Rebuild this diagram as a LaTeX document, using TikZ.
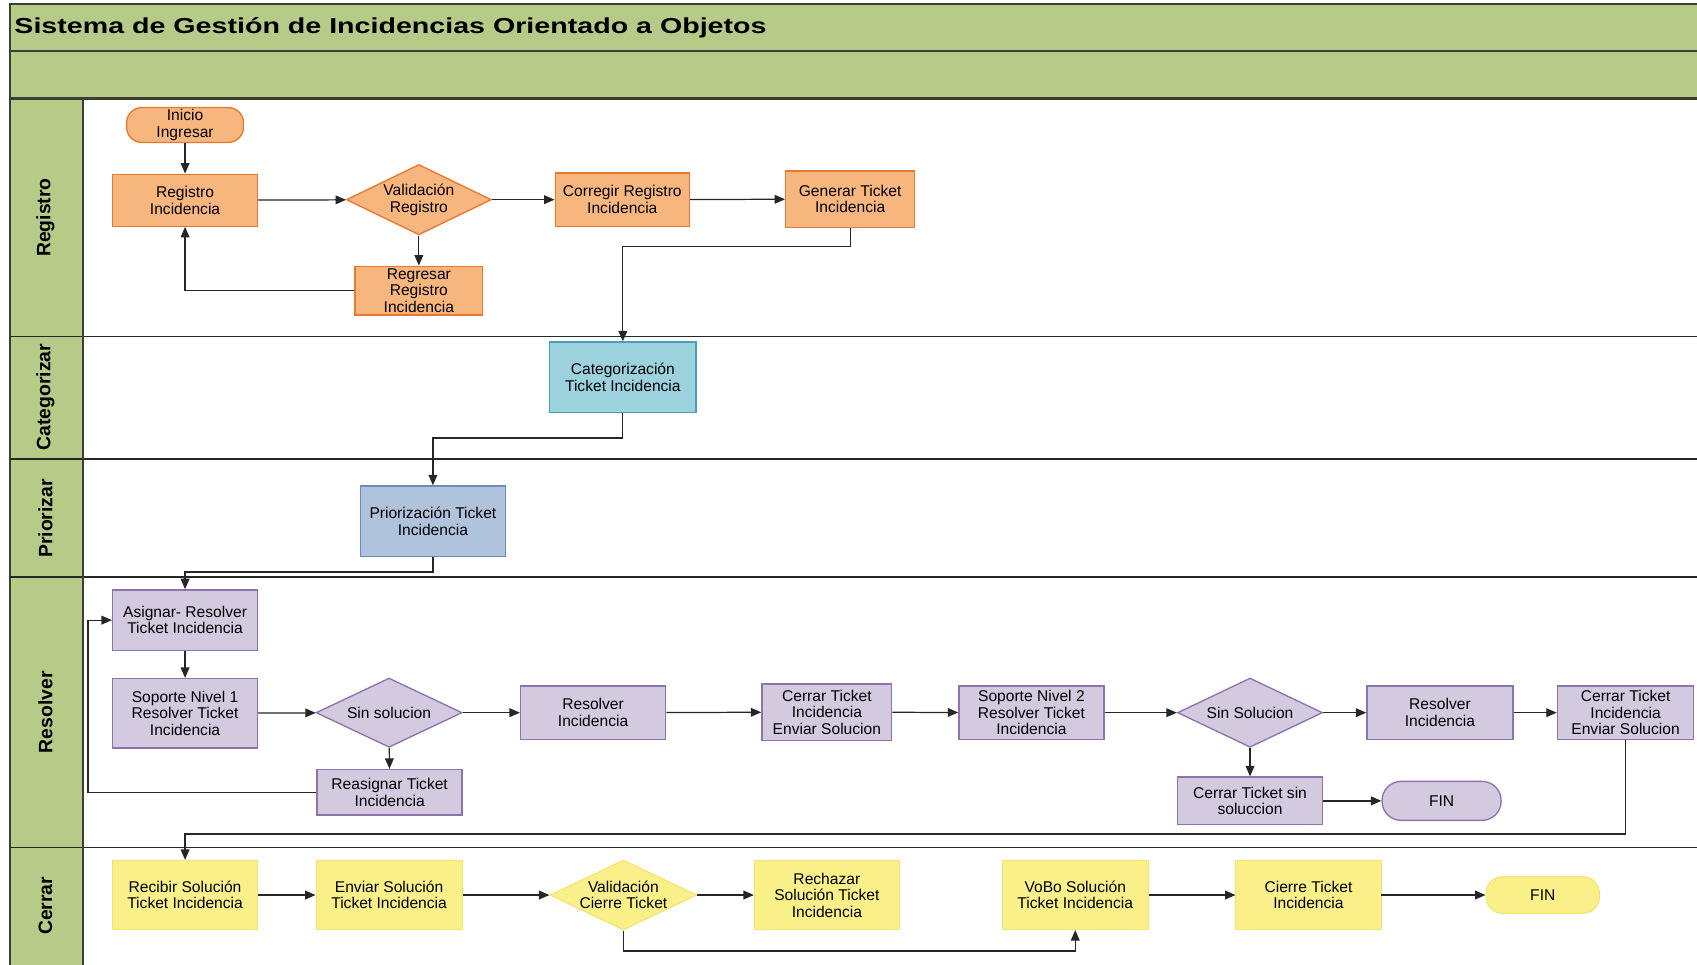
\documentclass[tikz,border=0pt]{standalone}
\usepackage{fontspec}
\setmainfont{Liberation Sans}
\newfontfamily\titlefont[FakeStretch=1.32]{Liberation Sans}
\usetikzlibrary{shapes.geometric,arrows.meta}

\definecolor{lanegreen}{HTML}{B7CB88}
\definecolor{framegray}{HTML}{3A3F36}
\definecolor{orfill}{HTML}{F8B67F}
\definecolor{ordraw}{HTML}{E8782D}
\definecolor{pufill}{HTML}{D3CAE0}
\definecolor{pudraw}{HTML}{8C74AC}
\definecolor{yefill}{HTML}{FAF08A}
\definecolor{yedraw}{HTML}{F2E36A}
\definecolor{cyfill}{HTML}{9BD2DE}
\definecolor{cydraw}{HTML}{4A9FB3}
\definecolor{blfill}{HTML}{B0C3DD}
\definecolor{bldraw}{HTML}{6A8BBE}

\tikzset{
  wh/.style 2 args={minimum width=#1*0.02cm, minimum height=#2*0.02cm},
  nodetext/.style={font=\fontsize{8.2}{8.7}\selectfont, align=center, text=black, inner sep=1pt},
  obox/.style={nodetext, rectangle, fill=orfill, draw=ordraw, line width=0.7pt},
  pbox/.style={nodetext, rectangle, fill=pufill, draw=pudraw, line width=0.7pt},
  ybox/.style={nodetext, rectangle, fill=yefill, draw=yedraw, line width=0.5pt},
  cbox/.style={nodetext, rectangle, fill=cyfill, draw=cydraw, line width=0.7pt},
  bbox/.style={nodetext, rectangle, fill=blfill, draw=bldraw, line width=0.7pt},
  dia/.style={diamond, aspect=2.1, inner sep=0pt},
  stadium/.style={rounded corners=8pt},
  conn/.style={draw=black!85, line width=0.65pt, -{Triangle[length=5.5pt,width=4.6pt]}},
  frame/.style={draw=framegray, line width=1.1pt},
  laneline/.style={draw=black!85, line width=0.8pt},
  lanelabel/.style={font=\bfseries\fontsize{10.2}{12}\selectfont, rotate=90}
}

\begin{document}
\begin{tikzpicture}[x=0.02cm,y=-0.02cm]
\clip (0,0) rectangle (1568,891);
\fill[white] (0,0) rectangle (1568,891);

% pool header and lane column
\draw[frame, fill=lanegreen] (9,4) rectangle (1600,91);
\draw[frame] (9,47) -- (1600,47);
\draw[frame, fill=lanegreen] (9,91) rectangle (77,910);
\draw[frame] (9,91) -- (1600,91);
\foreach \yy in {311,424,533,783} {
  \draw[laneline] (9,\yy) -- (1600,\yy);
}
\draw[frame] (77,91) -- (77,910);

% title
\node[anchor=west, inner sep=0pt, font=\titlefont\bfseries\fontsize{11.4}{13}\selectfont] (title) at (13,25.5)
  {Sistema de Gestión de Incidencias Orientado a Objetos};

% lane names
\node[lanelabel] (lreg) at (42,201) {Registro};
\node[lanelabel] (lcat) at (42,367) {Categorizar};
\node[lanelabel] (lpri) at (42,479) {Priorizar};
\node[lanelabel] (lres) at (42,658) {Resolver};
\node[lanelabel] (lcer) at (42,837) {Cerrar};

% Registro
\node[obox, stadium, wh={108}{31}] (ini) at (171,115.5) {Inicio\\Ingresar};
\node[obox, wh={134}{48}] (reg) at (171,185) {Registro\\Incidencia};
\node[obox, dia, wh={134}{65}] (val) at (387,184.5) {Validación\\Registro};
\node[obox, wh={118}{45}] (regr) at (387,268.5) {Regresar\\Registro\\Incidencia};
\node[obox, wh={124}{49}] (corr) at (575,184.5) {Corregir Registro\\Incidencia};
\node[obox, wh={119}{52}] (gen) at (785.5,184) {Generar Ticket\\Incidencia};

% Categorizar / Priorizar
\node[cbox, wh={135}{65}] (cat) at (575.5,348.5) {Categorización\\Ticket Incidencia};
\node[bbox, wh={134}{65}] (pri) at (400,481.5) {Priorización Ticket\\Incidencia};

% Resolver
\node[pbox, wh={134}{56}] (asig) at (171,573) {Asignar- Resolver\\Ticket Incidencia};
\node[pbox, wh={134}{64}] (sop1) at (171,659) {Soporte Nivel 1\\Resolver Ticket\\Incidencia};
\node[pbox, dia, wh={135}{64}] (sin1) at (359.5,658.5) {Sin solucion};
\node[pbox, wh={134}{42}] (reas) at (360,732) {Reasignar Ticket\\Incidencia};
\node[pbox, wh={134}{49}] (res1) at (548,658.5) {Resolver\\Incidencia};
\node[pbox, wh={120}{52}] (cer1) at (764,658) {Cerrar Ticket\\Incidencia\\Enviar Solucion};
\node[pbox, wh={134}{49}] (sop2) at (953,658.5) {Soporte Nivel 2\\Resolver Ticket\\Incidencia};
\node[pbox, dia, wh={134}{64}] (sin2) at (1155,658.5) {Sin Solucion};
\node[pbox, wh={134}{44}] (csin) at (1155,740) {Cerrar Ticket sin\\soluccion};
\node[pbox, stadium, rounded corners=10pt, wh={110}{36}] (fin1) at (1332,740) {FIN};
\node[pbox, wh={135}{49}] (res2) at (1330.5,658.5) {Resolver\\Incidencia};
\node[pbox, wh={126}{49}] (cer2) at (1502,658.5) {Cerrar Ticket\\Incidencia\\Enviar Solucion};

% Cerrar
\node[ybox, wh={134}{64}] (rec) at (171,827) {Recibir Solución\\Ticket Incidencia};
\node[ybox, wh={135}{64}] (env) at (359.5,827) {Enviar Solución\\Ticket Incidencia};
\node[ybox, dia, wh={134}{64}] (valc) at (576,827) {Validación\\Cierre Ticket};
\node[ybox, wh={134}{64}] (rech) at (764,827) {Rechazar\\Solución Ticket\\Incidencia};
\node[ybox, wh={135}{64}] (vobo) at (993.5,827) {VoBo Solución\\Ticket Incidencia};
\node[ybox, wh={134}{64}] (cie) at (1209,827) {Cierre Ticket\\Incidencia};
\node[ybox, rounded corners=9pt, wh={105}{34}] (fin2) at (1425.5,827) {FIN};

% connectors: Registro
\draw[conn] (ini) -- (reg);
\draw[conn] (reg) -- (val);
\draw[conn] (val.east) -- (val.east -| corr.west);
\draw[conn] (val) -- (regr);
\draw[conn] (regr.west) -| (reg.south);
\draw[conn] (corr) -- (gen);
\draw[conn] (gen.south) -- ++(0,17) -| (cat.north);

% connectors: Categorizar / Priorizar
\draw[conn] (cat.south) -- ++(0,23) -| (pri.north);
\draw[conn] (pri.south) -- ++(0,14) -| (asig.north);

% connectors: Resolver
\draw[conn] (asig) -- (sop1);
\draw[conn] (sop1) -- (sin1);
\draw[conn] (sin1) -- (res1);
\draw[conn] (res1) -- (cer1);
\draw[conn] (cer1) -- (sop2);
\draw[conn] (sop2) -- (sin2);
\draw[conn] (sin2) -- (res2);
\draw[conn] (res2) -- (cer2);
\draw[conn] (sin1) -- (reas);
\draw[conn] (reas.west) -- ++(-211,0) |- (asig.west);
\draw[conn] (sin2) -- (csin);
\draw[conn] (csin) -- (fin1);
\draw[conn] (cer2.south) -- ++(0,87) -| (rec.north);

% connectors: Cerrar
\draw[conn] (rec) -- (env);
\draw[conn] (env) -- (valc);
\draw[conn] (valc) -- (rech);
\draw[conn] (valc.south) -- ++(0,19) -| (vobo.south);
\draw[conn] (vobo) -- (cie);
\draw[conn] (cie) -- (fin2);
\end{tikzpicture}
\end{document}
